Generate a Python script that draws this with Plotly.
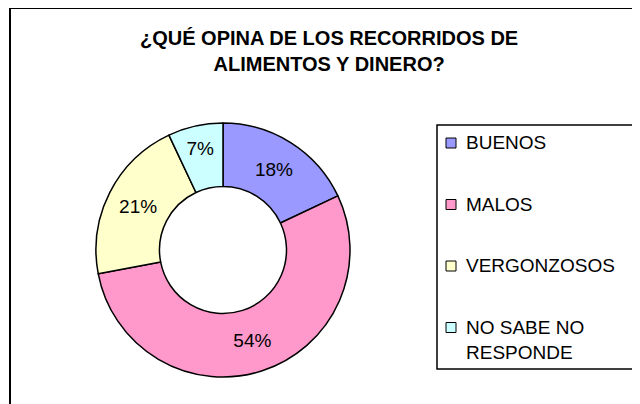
import plotly.graph_objects as go

# ---- data ----
categories = ["BUENOS", "MALOS", "VERGONZOSOS", "NO SABE NO<br>RESPONDE"]
values = [18, 54, 21, 7]
colors = ["#9999FF", "#FF99CC", "#FFFFCC", "#CCFFFF"]
title_lines = ["¿QUÉ OPINA DE LOS RECORRIDOS DE", "ALIMENTOS Y DINERO?"]

# the page body has an 8px margin; the figure is sized to fill the rest
OFF = 8
W, H = 640 - OFF, 404 - OFF
FONT = "Liberation Sans, Arial, sans-serif"


def px(x):
    return (x - OFF) / W


def py(y):
    return 1 - (y - OFF) / H


# pie geometry (page pixels)
cx, cy, r = 223, 250, 127

fig = go.Figure()
fig.add_trace(go.Pie(
    labels=categories,
    values=values,
    hole=0.5,
    sort=False,
    direction="clockwise",
    rotation=0,
    marker=dict(colors=colors, line=dict(color="black", width=1.5)),
    textinfo="percent",
    textposition="inside",
    insidetextorientation="horizontal",
    textfont=dict(family=FONT, size=19, color="black"),
    showlegend=False,
    domain=dict(x=[px(cx - r), px(cx + r)], y=[py(cy + r), py(cy - r)]),
))

shapes = []
annotations = []

# outer frame
shapes.append(dict(type="rect", xref="paper", yref="paper",
                   x0=px(10), x1=px(700), y0=py(460), y1=py(8),
                   line=dict(color="black", width=2), fillcolor="rgba(0,0,0,0)"))

# title
annotations.append(dict(
    text="<br>".join(title_lines), xref="paper", yref="paper",
    x=px(329), y=py(51), xanchor="center", yanchor="middle",
    showarrow=False, align="center",
    font=dict(family=FONT, size=20, color="black", weight="bold"),
))

# legend box
shapes.append(dict(type="rect", xref="paper", yref="paper",
                   x0=px(437), x1=px(633), y0=py(369), y1=py(125),
                   line=dict(color="black", width=1.5), fillcolor="white"))

y_first, step = 143, 61.5
for i, (lab, col) in enumerate(zip(categories, colors)):
    yc = y_first + i * step
    shapes.append(dict(type="rect", xref="paper", yref="paper",
                       x0=px(446), x1=px(456), y0=py(yc + 5), y1=py(yc - 5),
                       line=dict(color="black", width=1), fillcolor=col))
    annotations.append(dict(
        text=lab, xref="paper", yref="paper",
        x=px(464), y=py(yc - 13), xanchor="left", yanchor="top",
        showarrow=False, align="left",
        font=dict(family=FONT, size=19, color="black"),
    ))

fig.update_layout(
    width=W, height=H,
    margin=dict(l=0, r=0, t=0, b=0),
    paper_bgcolor="white", plot_bgcolor="white",
    shapes=shapes, annotations=annotations,
)

fig.write_html("out.html")
